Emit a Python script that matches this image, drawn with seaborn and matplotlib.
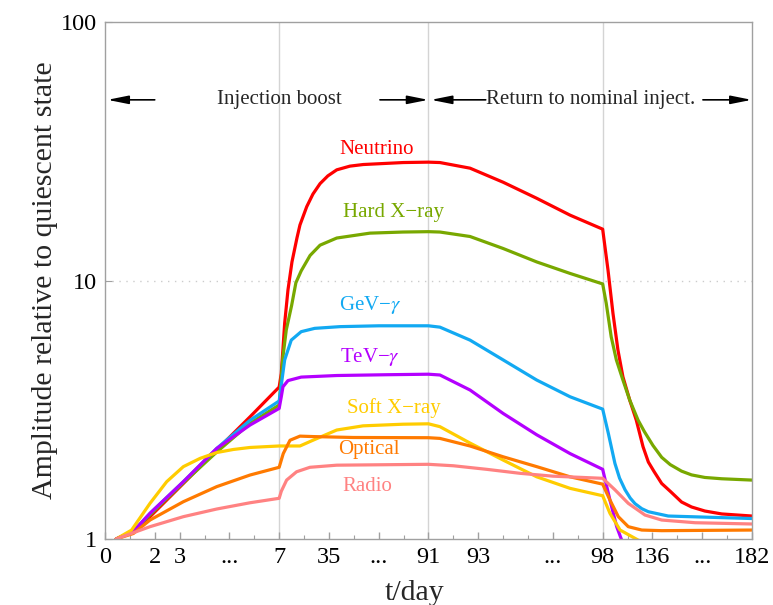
import numpy as np
import pandas as pd

import matplotlib
matplotlib.use("Agg")
import matplotlib.pyplot as plt
import seaborn as sns

# Data (t in days, amplitude relative to quiescent state)

neutrino_t = [0.45, 1.14, 1.81, 3.15, 4.49, 5.83, 7, 8.19, 9.14, 10.1, 11.95, 14.2,
              17.0, 18.7, 22.5, 26.0, 30, 34.4, 39.4, 46.8, 54.3, 76.8, 91, 91.46,
              92.67, 94.0, 95.35, 96.69, 98, 101.0, 103.8, 106.6, 109.4, 113.2,
              116.9, 120.7, 123.7, 127, 131.2, 136, 142.4, 148, 155.5, 165, 182]
neutrino_v = [1.0, 1.07, 1.22, 1.64, 2.21, 2.97, 3.87, 4.37, 5.45, 6.84, 9.19, 11.8,
              14.6, 16.4, 19.3, 21.6, 23.7, 25.4, 26.8, 27.7, 28.1, 28.6, 28.7, 28.6,
              27.2, 24.0, 20.8, 17.9, 15.8, 10.98, 7.46, 5.38, 4.24, 3.45,
              2.885, 2.276, 1.985, 1.82, 1.64, 1.53, 1.39, 1.33, 1.283, 1.25, 1.227]

hardx_t = [0.45, 1.14, 1.81, 3.15, 4.49, 5.83, 7, 9.14, 11.0, 14.0, 16.4, 19.4, 24.4,
           30, 39.4, 58.1, 76.6, 91, 91.46, 92.67, 94.0, 95.35, 96.69, 98, 100.0,
           102.8, 105.7, 109.4, 113.2, 117.9, 121.5, 126.3, 131.2, 136, 142.4, 148,
           155.5, 165, 182]
hardx_v = [1.0, 1.07, 1.24, 1.65, 2.17, 2.80, 3.3, 5.08, 6.44, 8.0, 9.8, 10.9, 12.5,
           13.7, 14.6, 15.25, 15.4, 15.45, 15.4, 14.8, 13.3, 11.8, 10.65, 9.7, 8.17,
           6.06, 4.93, 4.12, 3.45, 2.885, 2.6, 2.3, 2.07, 1.94, 1.83, 1.77,
           1.73, 1.71, 1.69]

gev_t = [0.45, 1.14, 1.81, 3.15, 4.49, 5.83, 7, 8.19, 10.1, 13.8, 19.4, 27.0, 41.2,
         63, 91, 91.46, 92.67, 94.0, 95.35, 96.69, 98, 101.2, 104.9, 107.5, 110.6,
         113.5, 116.2, 120, 123.7, 134.9, 182]
gev_v = [1.0, 1.07, 1.257, 1.666, 2.24, 2.88, 3.42, 3.94, 4.93, 5.88, 6.34, 6.53, 6.63,
         6.68, 6.68, 6.6, 5.88, 4.93, 4.12, 3.55, 3.18, 2.56, 1.96, 1.72, 1.55,
         1.44, 1.37, 1.31, 1.275, 1.227, 1.20]

tev_t = [0.45, 1.14, 1.81, 3.15, 4.49, 5.83, 7, 8.19, 9.14, 11.95, 19.4, 39.4, 67.5,
         91, 91.46, 92.67, 94.0, 95.35, 96.69, 98, 102.1, 105.9, 108.7, 112]
tev_v = [1.0, 1.07, 1.257, 1.666, 2.24, 2.76, 3.2, 3.55, 3.88, 4.1, 4.23, 4.29, 4.32,
         4.34, 4.31, 3.77, 3.06, 2.53, 2.14, 1.86, 1.415, 1.116, 0.99, 0.88]

softx_t = [0.45, 1.07, 1.81, 2.48, 3.15, 3.82, 4.49, 5.16, 5.83, 7, 12, 18.7, 26.0,
           39.4, 54.2, 76.6, 91, 91.46, 92.67, 94.0, 95.35, 96.69, 98, 102.1, 107.8,
           118, 125]
softx_v = [1.0, 1.083, 1.374, 1.666, 1.905, 2.05, 2.16, 2.22, 2.26, 2.29, 2.29, 2.29,
           2.41, 2.64, 2.74, 2.78, 2.79, 2.72, 2.35, 2.02, 1.74, 1.57, 1.47, 1.257,
           1.083, 0.99, 0.95]

optical_t = [0.45, 1.14, 1.81, 3.15, 4.49, 5.83, 7, 9.3, 13.1, 18.7, 26.2, 48.7, 91,
             91.46, 92.67, 94.0, 95.35, 96.69, 98, 102.1, 106.8, 112.4, 120, 131.2, 182]
optical_v = [1.0, 1.05, 1.184, 1.394, 1.594, 1.768, 1.894, 2.14, 2.41, 2.50, 2.49, 2.47,
             2.465, 2.45, 2.29, 2.08, 1.905, 1.74, 1.63, 1.415, 1.22, 1.116, 1.083,
             1.077, 1.083]

radio_t = [0.45, 1.81, 3.15, 4.49, 5.83, 7, 8.2, 11.2, 16.8, 24.3, 39.4, 91, 92.0,
           93.34, 94.68, 96.0, 98, 104.9, 112.4, 121.8, 131.2, 150, 182]
radio_v = [1.0, 1.116, 1.22, 1.306, 1.381, 1.437, 1.53, 1.69, 1.82, 1.894, 1.93, 1.945,
           1.92, 1.86, 1.795, 1.75, 1.717, 1.55, 1.374, 1.238, 1.184, 1.156, 1.143]

series = ["Neutrino", "Hard X\u2212ray", "GeV\u2212$\\gamma$", "TeV\u2212$\\gamma$",
          "Soft X\u2212ray", "Optical", "Radio"]
colors = ["#ff0000", "#78a800", "#12a9f2", "#b400ff", "#ffcc00", "#ff7a00", "#ff8282"]

# axis ticks (days) and the labels written under them
tick_days = [0, 2, 3, 5, 7, 35, 63, 91, 93, 96, 98, 126, 154, 182]
tick_labels = ["0", "2", "3", "...", "7", "35", "...", "91", "93", "...", "98",
               "136", "...", "182"]
phase_bounds = [7, 91, 98]

df = pd.concat([
    pd.DataFrame({"t": t, "amp": v, "band": name})
    for name, t, v in zip(
        series,
        [neutrino_t, hardx_t, gev_t, tev_t, softx_t, optical_t, radio_t],
        [neutrino_v, hardx_v, gev_v, tev_v, softx_v, optical_v, radio_v]
    )
])

sns.set_style("white")
plt.rcParams["font.family"] = ["Liberation Serif", "DejaVu Serif"]
plt.rcParams["mathtext.fontset"] = "stix"

# piecewise-linear time axis: long stretches are compressed 14:1
day_breaks = [0, 7, 91, 98, 182]
axis_breaks = [0, 7, 13, 20, 26]


def fwd(x):
    return np.interp(x, day_breaks, axis_breaks)


def inv(u):
    return np.interp(u, axis_breaks, day_breaks)


fig = plt.figure(figsize=(7.73, 6.05), dpi=100)
ax = fig.add_axes([0.1358, 0.1091, 0.837, 0.8545])

ax.set_xscale("function", functions=(fwd, inv))
ax.set_yscale("log")

for b in phase_bounds:
    ax.axvline(b, color="#d4d4d4", lw=1, zorder=0)
ax.axhline(10, color="#cccccc", lw=1, ls=(0, (1, 4)), zorder=0)

sns.lineplot(
    data=df,
    x="t",
    y="amp",
    hue="band",
    hue_order=series,
    palette=dict(zip(series, colors)),
    estimator=None,
    sort=False,
    linewidth=2.3,
    legend=False,
    ax=ax
)

ax.set_xlim(0, 182)
ax.set_ylim(1, 100)

ax.set_xticks(tick_days)
ax.set_xticklabels(tick_labels)
minor_days = list(range(0, 8)) + list(range(21, 92, 14)) + list(range(92, 99)) + \
    list(range(112, 183, 14))
ax.set_xticks(minor_days, minor=True)
ax.set_yticks([1, 10, 100])
ax.set_yticklabels(["1", "10", "100"])
ax.yaxis.set_minor_locator(matplotlib.ticker.NullLocator())

ax.tick_params(axis="x", which="both", direction="in", bottom=True, colors="#a0a0a0",
               labelcolor="black", labelsize=17.5, pad=6)
ax.tick_params(axis="x", which="major", length=5, width=1)
ax.tick_params(axis="x", which="minor", length=3, width=0.8)
ax.tick_params(axis="y", which="major", direction="in", left=True, length=5,
               colors="#a0a0a0", labelcolor="black", labelsize=17.5, pad=6)

for s in ax.spines.values():
    s.set_color("#a0a0a0")
    s.set_linewidth(1)

ax.set_xlabel("t/day", fontsize=21.5)
ax.set_ylabel("Amplitude relative to quiescent state", fontsize=21.5)
ax.xaxis.set_label_coords(0.479, -0.079)
ax.yaxis.set_label_coords(-0.073, 0.5)

# curve labels
label_pos = [(62, 32.0), (71.4, 18.3), (58.2, 8.05), (58.2, 5.06), (71.4, 3.21),
             (57.6, 2.21), (56.7, 1.59)]
for name, c, (lx, ly) in zip(series, colors, label_pos):
    ax.text(lx, ly, name, color=c, fontsize=15, ha="center", va="center")

# phase annotations
arrow_y = 50
arrow = dict(arrowstyle="-|>,head_length=0.9,head_width=0.18", color="black",
             lw=1.2, shrinkA=0, shrinkB=0, mutation_scale=14)
ax.annotate("", xy=(0.1, arrow_y), xytext=(2.0, arrow_y), arrowprops=arrow)
ax.text(7, arrow_y, "Injection boost", fontsize=15, ha="center", va="center")
ax.annotate("", xy=(90.9, arrow_y), xytext=(63.7, arrow_y), arrowprops=arrow)
ax.annotate("", xy=(91.1, arrow_y), xytext=(93.3, arrow_y), arrowprops=arrow)
ax.text(97.5, arrow_y, "Return to nominal inject.", fontsize=15, ha="center",
        va="center")
ax.annotate("", xy=(181.8, arrow_y), xytext=(154.4, arrow_y), arrowprops=arrow)

plt.savefig("out.png", dpi=100)
plt.close()
